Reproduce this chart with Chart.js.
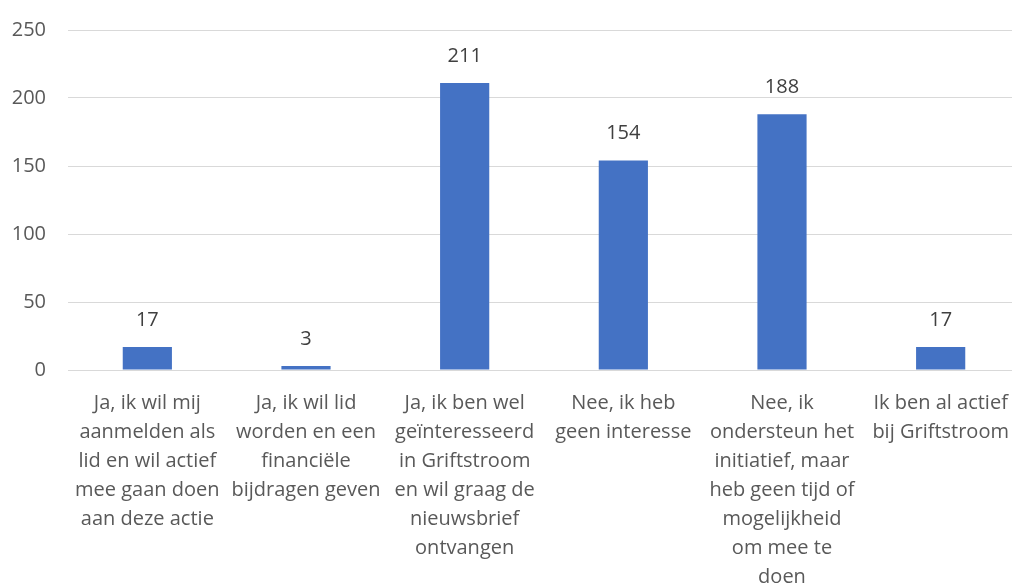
<!DOCTYPE html>
<html>
<head>
<meta charset="utf-8">
<script src="https://cdn.jsdelivr.net/npm/chart.js@4/dist/chart.umd.min.js"></script>
<style>
  html, body { margin: 0; padding: 0; background: #fff; overflow: hidden; }
  #wrap { width: 1020px; height: 586px; }
</style>
</head>
<body>
<div id="wrap"><canvas id="chart" width="1020" height="586"></canvas></div>
<script>
// categories (already wrapped like in the original)
const categories = [
  ["Ja, ik wil mij", "aanmelden als", "lid en wil actief", "mee gaan doen", "aan deze actie"],
  ["Ja, ik wil lid", "worden en een", "financiële", "bijdragen geven"],
  ["Ja, ik ben wel", "geïnteresseerd", "in Griftstroom", "en wil graag de", "nieuwsbrief", "ontvangen"],
  ["Nee, ik heb", "geen interesse"],
  ["Nee, ik", "ondersteun het", "initiatief, maar", "heb geen tijd of", "mogelijkheid", "om mee te", "doen"],
  ["Ik ben al actief", "bij Griftstroom"]
];
const counts = [17, 3, 211, 154, 188, 17];
const yTicks = [0, 50, 100, 150, 200, 250];

const textFont = "'Open Sans', 'Liberation Sans', sans-serif";

// draw the value above each bar
const valueLabels = {
  id: "valueLabels",
  afterDatasetsDraw(chart) {
    const ctx = chart.ctx;
    const meta = chart.getDatasetMeta(0);
    ctx.save();
    ctx.font = "20px " + textFont;
    ctx.fillStyle = "#404040";
    ctx.textAlign = "center";
    ctx.textBaseline = "middle";
    meta.data.forEach(function (bar, i) {
      ctx.fillText(String(counts[i]), bar.x, bar.y - 27);
    });
    ctx.restore();
  }
};

new Chart(document.getElementById("chart"), {
  type: "bar",
  data: {
    labels: categories,
    datasets: [{
      data: counts,
      backgroundColor: "#4472C4",
      barPercentage: 0.31,
      categoryPercentage: 1
    }]
  },
  options: {
    responsive: false,
    animation: false,
    layout: { padding: { left: 0, right: 0, top: 30, bottom: 0 } },
    plugins: {
      legend: { display: false },
      tooltip: { enabled: false }
    },
    scales: {
      x: {
        grid: { display: false },
        border: { display: false },
        afterFit(axis) { axis.height = 216; },
        ticks: {
          color: "#595959",
          font: { family: textFont, size: 20, lineHeight: 1.45 },
          padding: 11,
          maxRotation: 0,
          autoSkip: false
        }
      },
      y: {
        min: yTicks[0],
        max: yTicks[yTicks.length - 1],
        afterBuildTicks(axis) {
          axis.ticks = yTicks.map(v => ({ value: v }));
        },
        afterFit(axis) {
          axis.width = 68;
          axis.paddingTop = 0;
        },
        grid: { color: "#d9d9d9", lineWidth: 1, drawTicks: false },
        border: { display: false },
        ticks: {
          color: "#595959",
          font: { family: textFont, size: 20 },
          padding: 22
        }
      }
    }
  },
  plugins: [valueLabels]
});
</script>
</body>
</html>
